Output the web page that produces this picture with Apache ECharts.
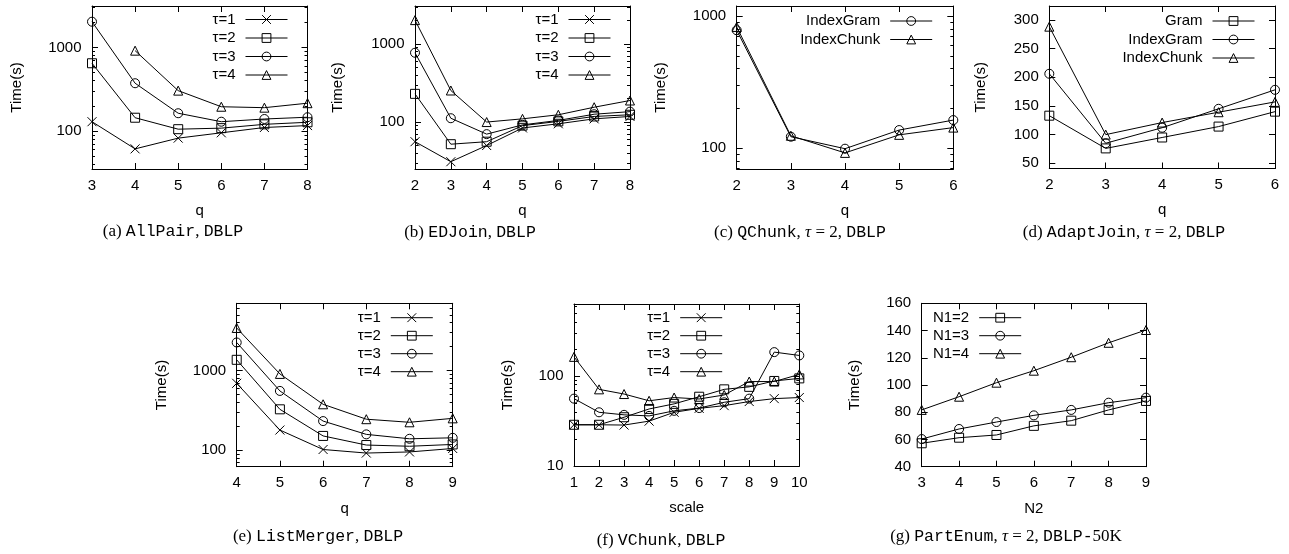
<!DOCTYPE html>
<html>
<head>
<meta charset="utf-8">
<title>Time(s)</title>
<script src="https://cdn.jsdelivr.net/npm/echarts@6/dist/echarts.min.js"></script>
<style>
html, body { margin: 0; padding: 0; background: #fff; }
#main { width: 1289px; height: 554px; }
</style>
</head>
<body>
<div id="main"></div>
<script>
// ---------------- data ----------------
// (a) AllPair, DBLP
var qA = [3, 4, 5, 6, 7, 8];
var allPairT1 = [129, 61, 82, 95, 110, 116];
var allPairT2 = [647, 144, 105, 108, 120, 127];
var allPairT3 = [2036, 373, 163, 129, 139, 146];
var allPairT4 = [null, 916, 304, 195, 190, 215];

// (b) EDJoin, DBLP
var qB = [2, 3, 4, 5, 6, 7, 8];
var edJoinT1 = [56, 31, 50, 84, 95, 110, 118];
var edJoinT2 = [230, 52, 56, 90, 102, 118, 124];
var edJoinT3 = [774, 112, 70, 92, 105, 126, 136];
var edJoinT4 = [2030, 254, 100, 110, 124, 155, 189];

// (c) QChunk, tau = 2, DBLP
var qC = [2, 3, 4, 5, 6];
var qChunkIndexGram = [780, 122, 99, 137, 163];
var qChunkIndexChunk = [826, 124, 92, 126, 143];

// (d) AdaptJoin, tau = 2, DBLP
var qD = [2, 3, 4, 5, 6];
var adaptGram = [133, 76, 95, 114, 140];
var adaptIndexGram = [206, 85, 112, 145, 178];
var adaptIndexChunk = [288, 100, 121, 139, 157];

// (e) ListMerger, DBLP
var qE = [4, 5, 6, 7, 8, 9];
var listMergerT1 = [692, 179, 102, 92, 95, 105];
var listMergerT2 = [1365, 326, 151, 116, 112, 118];
var listMergerT3 = [2255, 555, 232, 158, 139, 143];
var listMergerT4 = [3430, 908, 377, 245, 224, 251];

// (f) VChunk, DBLP
var scaleF = [1, 2, 3, 4, 5, 6, 7, 8, 9, 10];
var vChunkT1 = [28.7, 28.7, 28.5, 31.5, 39.5, 43.7, 46.8, 52, 56, 57.6];
var vChunkT2 = [28.7, 28.7, 34.8, 43, 49, 58.8, 71, 75.7, 88, 94];
var vChunkT3 = [56, 39.5, 37, 36, 41, 44, 51, 56, 184, 169];
var vChunkT4 = [163, 71, 63, 53, 57.6, 55.5, 61.5, 86.7, 86.7, 104];

// (g) PartEnum, tau = 2, DBLP-50K
var n2G = [3, 4, 5, 6, 7, 8, 9];
var partEnumN1_2 = [57.2, 61.3, 63.3, 70, 73.8, 81.7, 88.3];
var partEnumN1_3 = [60.3, 67.7, 72.8, 77.7, 81.7, 87, 90.7];
var partEnumN1_4 = [81.7, 91.4, 101.7, 110.5, 120.4, 131, 140.4];

// y tick labels
var logTicks = [10, 100, 1000];
var ticksD = [50, 100, 150, 200, 250, 300];
var ticksG = [40, 60, 80, 100, 120, 140, 160];

// ---------------- chart ----------------
var FONT = 'Liberation Sans';
var FS = 15;
var SYM = {
	cross: 'path://M0,0L10,10M10,0L0,10',
	square: 'rect',
	circle: 'circle',
	triangle: 'triangle'
};

var grids = [], xAxes = [], yAxes = [], series = [], legends = [], graphics = [];

function txt(extra) {
	var s = { fontFamily: FONT, fontSize: FS, color: '#000' };
	for (var k in extra) s[k] = extra[k];
	return s;
}

function tickFormatter(ticks) {
	return function(v) {
		for (var i = 0; i < ticks.length; i++) {
			if (Math.abs(v - ticks[i]) < ticks[i] * 1e-6) return String(ticks[i]);
		}
		return '';
	};
}

/**
 * one sub figure: grid + 4 axes (box) + lines + legend + caption
 */
function addPanel(p) {
	var g = grids.length;
	grids.push({ left: p.box[0], top: p.box[1], width: p.box[2], height: p.box[3] });

	var line = { show: true, onZero: false, lineStyle: { color: '#000', width: 1 } };
	var xMin = p.x[0], xMax = p.x[p.x.length - 1];
	['bottom', 'top'].forEach(function(pos) {
		xAxes.push({
			gridIndex: g, type: 'value', position: pos,
			min: xMin, max: xMax, interval: 1,
			axisLine: line,
			axisTick: { show: true, inside: true, length: 6, lineStyle: { color: '#000' } },
			axisLabel: txt({ show: pos == 'bottom', margin: 9 }),
			splitLine: { show: false },
			name: pos == 'bottom' ? p.xName : '',
			nameLocation: 'middle', nameGap: p.xGap,
			nameTextStyle: txt({})
		});
	});
	['left', 'right'].forEach(function(pos) {
		var ax = {
			gridIndex: g, type: p.log ? 'log' : 'value', position: pos,
			min: p.y[0], max: p.y[1],
			axisLine: line,
			axisTick: { show: true, inside: true, length: 6, lineStyle: { color: '#000' } },
			axisLabel: txt({ show: pos == 'left', margin: 10.5, formatter: tickFormatter(p.ticks) }),
			splitLine: { show: false },
			name: pos == 'left' ? 'Time(s)' : '',
			nameLocation: 'middle', nameGap: p.yGap,
			nameTextStyle: txt({})
		};
		if (p.log) {
			ax.logBase = 10;
			ax.minorTick = { show: true, splitNumber: 9, length: 3, lineStyle: { color: '#000' } };
		}
		if (p.interval) ax.interval = p.interval;
		yAxes.push(ax);
	});

	var names = [];
	p.lines.forEach(function(l) {
		var pts = [];
		p.x.forEach(function(q, k) {
			if (l.values[k] != null) pts.push([q, l.values[k]]);
		});
		names.push(l.name);
		series.push({
			type: 'line', name: l.name,
			xAxisIndex: 2 * g, yAxisIndex: 2 * g,
			data: pts,
			symbol: SYM[l.mark], symbolSize: 9,
			itemStyle: { color: 'rgba(0,0,0,0)', borderColor: '#000', borderWidth: 1 },
			lineStyle: { color: '#000', width: 1 },
			emphasis: { disabled: true },
			silent: true
		});
	});

	legends.push({
		orient: 'vertical', align: 'right', padding: 0,
		right: p.legend[0], top: p.legend[1],
		itemWidth: 42, itemHeight: 11, itemGap: p.legendGap || 3.5,
		selectedMode: false,
		itemStyle: { color: 'rgba(0,0,0,0)', borderColor: '#000', borderWidth: 1 },
		lineStyle: { color: '#000', width: 1 },
		textStyle: txt({ padding: [0, 5, 0, 0] }),
		data: names
	});

	graphics.push({
		type: 'text', x: p.caption[0], y: p.caption[1], silent: true,
		style: {
			text: p.caption[2],
			align: 'center', verticalAlign: 'middle',
			fill: '#000',
			rich: {
				r: { fontFamily: 'Liberation Serif', fontSize: 17, fill: '#000' },
				i: { fontFamily: 'Liberation Serif', fontSize: 17, fontStyle: 'italic', fill: '#000' },
				m: { fontFamily: 'Liberation Mono', fontSize: 16.5, fill: '#000' }
			}
		}
	});
}

var tau = ['\u03c4=1', '\u03c4=2', '\u03c4=3', '\u03c4=4'];

addPanel({
	box: [92, 6, 215.5, 163], x: qA, xName: 'q', xGap: 34,
	log: true, y: [35, 3140], ticks: logTicks, yGap: 67.5,
	legend: [1001, 12],
	caption: [173, 232, '{r|(a) }{m|AllPair}{r|, }{m|DBLP}'],
	lines: [
		{ name: tau[0], mark: 'cross', values: allPairT1 },
		{ name: tau[1], mark: 'square', values: allPairT2 },
		{ name: tau[2], mark: 'circle', values: allPairT3 },
		{ name: tau[3], mark: 'triangle', values: allPairT4 }
	]
});

addPanel({
	box: [415, 6, 215, 163], x: qB, xName: 'q', xGap: 34,
	log: true, y: [25, 3080], ticks: logTicks, yGap: 69.5,
	legend: [678, 12],
	caption: [470, 233, '{r|(b) }{m|EDJoin}{r|, }{m|DBLP}'],
	lines: [
		{ name: tau[0], mark: 'cross', values: edJoinT1 },
		{ name: tau[1], mark: 'square', values: edJoinT2 },
		{ name: tau[2], mark: 'circle', values: edJoinT3 },
		{ name: tau[3], mark: 'triangle', values: edJoinT4 }
	]
});

addPanel({
	box: [736.7, 6, 216.6, 163], x: qC, xName: 'q', xGap: 34,
	log: true, y: [69.5, 1190], ticks: logTicks, yGap: 68.5,
	legend: [356.3, 13.5],
	caption: [800, 233, '{r|(c) }{m|QChunk}{r|, }{i|\u03c4}{r| = 2, }{m|DBLP}'],
	lines: [
		{ name: 'IndexGram', mark: 'circle', values: qChunkIndexGram },
		{ name: 'IndexChunk', mark: 'triangle', values: qChunkIndexChunk }
	]
});

addPanel({
	box: [1049.3, 6, 225.7, 162.5], x: qD, xName: 'q', xGap: 34,
	log: false, y: [41, 324], ticks: ticksD, yGap: 61,
	legend: [34, 13.5],
	caption: [1124, 233, '{r|(d) }{m|AdaptJoin}{r|, }{i|\u03c4}{r| = 2, }{m|DBLP}'],
	lines: [
		{ name: 'Gram', mark: 'square', values: adaptGram },
		{ name: 'IndexGram', mark: 'circle', values: adaptIndexGram },
		{ name: 'IndexChunk', mark: 'triangle', values: adaptIndexChunk }
	]
});

addPanel({
	box: [236.7, 303.3, 216, 163.4], x: qE, xName: 'q', xGap: 34.5,
	log: true, y: [62, 7000], ticks: logTicks, yGap: 67,
	legend: [855.7, 310.2], legendGap: 3,
	caption: [318, 537, '{r|(e) }{m|ListMerger}{r|, }{m|DBLP}'],
	lines: [
		{ name: tau[0], mark: 'cross', values: listMergerT1 },
		{ name: tau[1], mark: 'square', values: listMergerT2 },
		{ name: tau[2], mark: 'circle', values: listMergerT3 },
		{ name: tau[3], mark: 'triangle', values: listMergerT4 }
	]
});

addPanel({
	box: [574, 304, 225.3, 162], x: scaleF, xName: 'scale', xGap: 34.5,
	log: true, y: [10, 630], ticks: logTicks, yGap: 58.5,
	legend: [566.3, 310.2], legendGap: 3,
	caption: [661, 541, '{r|(f) }{m|VChunk}{r|, }{m|DBLP}'],
	lines: [
		{ name: tau[0], mark: 'cross', values: vChunkT1 },
		{ name: tau[1], mark: 'square', values: vChunkT2 },
		{ name: tau[2], mark: 'circle', values: vChunkT3 },
		{ name: tau[3], mark: 'triangle', values: vChunkT4 }
	]
});

addPanel({
	box: [921.7, 303.3, 224.3, 163.4], x: n2G, xName: 'N2', xGap: 34.5,
	log: false, y: [40, 160], ticks: ticksG, interval: 20, yGap: 59,
	legend: [267.3, 310.2], legendGap: 3,
	caption: [1006, 537, '{r|(g) }{m|PartEnum}{r|, }{i|\u03c4}{r| = 2, }{m|DBLP-}{r|50K}'],
	lines: [
		{ name: 'N1=2', mark: 'square', values: partEnumN1_2 },
		{ name: 'N1=3', mark: 'circle', values: partEnumN1_3 },
		{ name: 'N1=4', mark: 'triangle', values: partEnumN1_4 }
	]
});

var chart = echarts.init(document.getElementById('main'));
chart.setOption({
	animation: false,
	backgroundColor: '#fff',
	grid: grids,
	xAxis: xAxes,
	yAxis: yAxes,
	legend: legends,
	series: series,
	graphic: graphics
});
</script>
</body>
</html>
